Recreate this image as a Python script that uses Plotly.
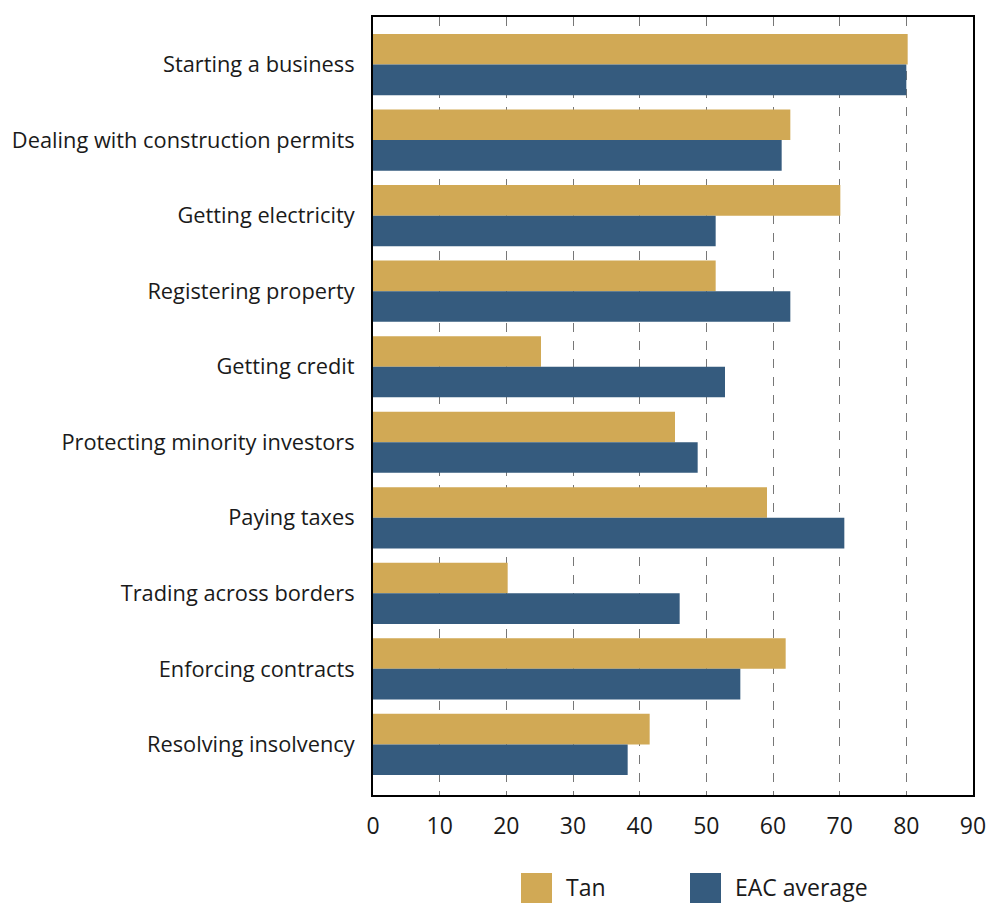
import plotly.graph_objects as go

categories = [
    "Starting a business",
    "Dealing with construction permits",
    "Getting electricity",
    "Registering property",
    "Getting credit",
    "Protecting minority investors",
    "Paying taxes",
    "Trading across borders",
    "Enforcing contracts",
    "Resolving insolvency",
]
tan_values = [80.2, 62.6, 70.1, 51.4, 25.2, 45.3, 59.1, 20.2, 61.9, 41.5]
eac_values = [80.0, 61.3, 51.4, 62.6, 52.8, 48.7, 70.7, 46.0, 55.1, 38.2]
series_names = ["Tan", "EAC average"]
x_ticks = [0, 10, 20, 30, 40, 50, 60, 70, 80, 90]

TAN = "#D1A955"
EAC = "#355B7E"
FONT = "'Open Sans', sans-serif"

L, R, T, B = 373, 19, 17, 108
PW, PH = 992 - L - R, 903 - T - B

fig = go.Figure()
fig.add_trace(go.Bar(y=categories, x=tan_values, name=series_names[0], orientation="h",
                     marker=dict(color=TAN, line=dict(width=0)), showlegend=False))
fig.add_trace(go.Bar(y=categories, x=eac_values, name=series_names[1], orientation="h",
                     marker=dict(color=EAC, line=dict(width=0)), showlegend=False))

fig.update_layout(
    width=992, height=903,
    margin=dict(l=L, r=R, t=T, b=B, autoexpand=False),
    barmode="group", bargap=0.19, bargroupgap=0,
    plot_bgcolor="white", paper_bgcolor="white",
    font=dict(family=FONT, size=20, color="#1a1a1a"),
)
fig.update_xaxes(
    range=[0, 90], tickvals=x_ticks, ticktext=[str(v) for v in x_ticks],
    showgrid=True, gridcolor="#777777", griddash="dash", gridwidth=1,
    showline=True, mirror=True, linecolor="black", linewidth=2,
    zeroline=False, ticks="", ticklabelstandoff=9, automargin=False,
    tickfont=dict(size=23),
)
fig.update_yaxes(
    categoryorder="array", categoryarray=categories,
    range=[9.67, -0.63], automargin=False,
    showgrid=False, showline=True, mirror=True, linecolor="black", linewidth=2,
    ticks="", ticklabelstandoff=12, tickfont=dict(size=21.8),
)

# custom legend with large swatches
legend_items = [(series_names[0], TAN, 521), (series_names[1], EAC, 690)]
for name, color, x0 in legend_items:
    fig.add_shape(type="rect", xref="paper", yref="paper",
                  x0=(x0 - L) / PW, x1=(x0 + 31 - L) / PW,
                  y0=(903 - B - 903) / PH, y1=(903 - B - 873) / PH,
                  fillcolor=color, line=dict(width=0), layer="above")
    fig.add_annotation(xref="paper", yref="paper", x=(x0 + 43 - L) / PW,
                       y=(903 - B - 887) / PH, text=name, showarrow=False,
                       xanchor="left", yanchor="middle", font=dict(size=23))

fig.write_html("out.html")
